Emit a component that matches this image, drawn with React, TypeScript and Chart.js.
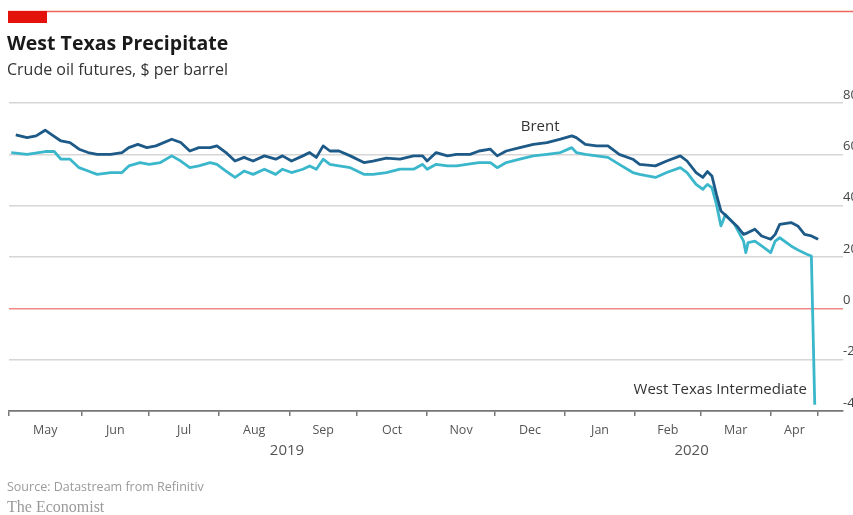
import React, { useEffect, useRef } from 'react';
import { Chart, registerables } from 'chart.js';

Chart.register(...registerables);

const TITLE = 'West Texas Precipitate';
const SUBTITLE = 'Crude oil futures, $ per barrel';
const SOURCE = 'Source: Datastream from Refinitiv';
const CREDIT = 'The Economist';

// x values are days since 1 May 2019
const brentDays = [2, 7, 11, 15, 18, 22, 26, 30, 34, 38, 44, 49, 52, 56, 60, 64, 71, 75, 79, 83, 88, 91, 95, 99, 103, 107, 112, 117, 120, 124, 129, 132, 135, 138, 141, 145, 150, 156, 160, 166, 172, 178, 182, 184, 188, 193, 197, 203, 207, 212, 215, 219, 225, 231, 237, 243, 248, 250, 254, 259, 264, 269, 275, 278, 285, 290, 296, 299, 303, 306, 308, 310, 312, 314, 317, 321, 324, 326, 329, 332, 336, 338, 340, 345, 348, 351, 354, 357];
const brentValues = [67.6, 66.5, 67.2, 69.4, 67.6, 65.2, 64.6, 62.0, 60.7, 60.0, 60.0, 60.7, 62.6, 63.9, 62.6, 63.3, 65.9, 64.6, 61.3, 62.6, 62.6, 63.3, 60.7, 57.4, 58.8, 57.4, 59.4, 58.1, 59.4, 57.4, 59.4, 60.7, 58.8, 63.3, 61.3, 61.3, 59.4, 56.8, 57.4, 58.5, 58.1, 59.4, 59.4, 57.4, 60.7, 59.4, 60.0, 60.0, 61.3, 62.0, 59.4, 61.3, 62.6, 63.9, 64.6, 65.9, 67.2, 66.5, 63.9, 63.3, 63.3, 60.0, 58.1, 56.1, 55.5, 57.4, 59.4, 57.4, 52.9, 51.0, 53.3, 51.6, 44.4, 37.9, 35.4, 32.1, 28.8, 29.5, 30.8, 28.2, 26.9, 28.8, 32.7, 33.4, 32.1, 28.8, 28.2, 26.9];

const wtiDays = [0, 7, 15, 19, 22, 26, 30, 34, 38, 44, 49, 52, 57, 61, 66, 71, 75, 79, 83, 88, 91, 95, 99, 103, 107, 112, 117, 120, 124, 129, 132, 135, 138, 141, 145, 150, 156, 160, 166, 172, 178, 182, 184, 188, 193, 197, 203, 207, 212, 215, 219, 225, 231, 237, 243, 248, 250, 254, 259, 264, 269, 275, 278, 285, 290, 296, 299, 303, 306, 308, 310, 312, 314, 316, 320, 324, 325, 326, 329, 332, 336, 338, 340, 345, 349, 352, 354, 355.5];
const wtiValues = [60.7, 60.0, 61.1, 61.1, 58.1, 58.1, 54.8, 53.5, 52.2, 52.9, 52.9, 55.5, 56.8, 56.1, 56.8, 59.4, 57.4, 54.8, 55.5, 56.8, 56.1, 53.5, 51.0, 53.5, 52.2, 54.2, 52.2, 54.2, 52.9, 54.2, 55.5, 54.2, 58.1, 56.1, 55.5, 54.8, 52.2, 52.2, 52.9, 54.2, 54.2, 56.1, 54.2, 56.1, 55.5, 55.5, 56.3, 56.8, 56.8, 54.8, 56.8, 58.1, 59.4, 60.0, 60.7, 62.6, 60.7, 60.0, 59.4, 58.8, 56.1, 52.9, 52.2, 51.0, 52.9, 54.8, 52.9, 48.3, 46.4, 48.3, 47.0, 40.5, 32.1, 36.6, 32.7, 26.2, 21.7, 25.6, 26.2, 24.3, 21.7, 26.2, 27.5, 24.3, 22.3, 21.1, 20.4, -37.6];

const monthTickDays = [-1, 31, 61, 92, 123, 153, 184, 214, 245, 276, 305, 336, 357];
const monthLabels = ['May', 'Jun', 'Jul', 'Aug', 'Sep', 'Oct', 'Nov', 'Dec', 'Jan', 'Feb', 'Mar', 'Apr'];
const yearLabels = ['2019', '2020'];
const yearSpanDays = [[-1, 245], [245, 357]];
const yTicks = [80, 60, 40, 20, 0, -20, -40];

const seriesNames = ['Brent', 'West Texas Intermediate'];
const brentLabelAt = { day: 234, value: 70.6 };
const wtiLabelAt = { day: 352, value: -31.6 };

const BRENT_COLOR = '#1d5a87';
const WTI_COLOR = '#3bb7cc';
const SANS = '"Open Sans", Lato, sans-serif';

const decorPlugin = {
  id: 'decor',
  afterDraw(chart: any) {
    const { ctx } = chart;
    const x = chart.scales.x;
    const y = chart.scales.y;
    ctx.save();
    // top rule and red block
    ctx.strokeStyle = 'rgba(227,18,11,0.65)';
    ctx.lineWidth = 1.5;
    ctx.beginPath();
    ctx.moveTo(8, 11.5);
    ctx.lineTo(853, 11.5);
    ctx.stroke();
    ctx.fillStyle = '#e3120b';
    ctx.fillRect(8, 11, 39, 12);

    ctx.textBaseline = 'middle';
    ctx.textAlign = 'left';
    ctx.fillStyle = '#1a1a1a';
    ctx.font = `bold 19.5px ${SANS}`;
    ctx.fillText(TITLE, 7, 44);
    ctx.fillStyle = '#333';
    ctx.font = `16px ${SANS}`;
    ctx.fillText(SUBTITLE, 7, 70);

    // month labels
    ctx.fillStyle = '#555';
    ctx.textAlign = 'center';
    ctx.font = `12.5px ${SANS}`;
    for (let i = 0; i < monthLabels.length; i++) {
      const c = x.getPixelForValue((monthTickDays[i] + monthTickDays[i + 1]) / 2);
      ctx.fillText(monthLabels[i], c, 430);
    }
    ctx.font = `15px ${SANS}`;
    for (let i = 0; i < yearLabels.length; i++) {
      const c = x.getPixelForValue((yearSpanDays[i][0] + yearSpanDays[i][1]) / 2);
      ctx.fillText(yearLabels[i], c, 451);
    }

    // series labels
    ctx.fillStyle = '#333';
    ctx.font = `15px ${SANS}`;
    ctx.textAlign = 'center';
    ctx.fillText(seriesNames[0], x.getPixelForValue(brentLabelAt.day), y.getPixelForValue(brentLabelAt.value));
    ctx.textAlign = 'right';
    ctx.fillText(seriesNames[1], x.getPixelForValue(wtiLabelAt.day), y.getPixelForValue(wtiLabelAt.value));

    // footer
    ctx.textAlign = 'left';
    ctx.fillStyle = '#9a9a9a';
    ctx.font = `12.5px ${SANS}`;
    ctx.fillText(SOURCE, 7, 487);
    ctx.font = '16px "Liberation Serif", serif';
    ctx.fillText(CREDIT, 7, 508);
    ctx.restore();
  },
};

export default function App() {
  const ref = useRef<HTMLCanvasElement>(null);
  useEffect(() => {
    if (!ref.current) return;
    const chart = new Chart(ref.current, {
      type: 'line',
      data: {
        datasets: [
          {
            label: seriesNames[0],
            data: brentDays.map((d, i) => ({ x: d, y: brentValues[i] })),
            borderColor: BRENT_COLOR,
            borderWidth: 2.8,
            pointRadius: 0,
            borderJoinStyle: 'round',
          },
          {
            label: seriesNames[1],
            data: wtiDays.map((d, i) => ({ x: d, y: wtiValues[i] })),
            borderColor: WTI_COLOR,
            borderWidth: 2.8,
            pointRadius: 0,
            borderJoinStyle: 'round',
          },
        ],
      },
      options: {
        animation: false,
        responsive: false,
        maintainAspectRatio: false,
        layout: { padding: { left: 9, top: 103, right: 0, bottom: 0 } },
        plugins: { legend: { display: false }, tooltip: { enabled: false }, title: { display: false } },
        scales: {
          x: {
            type: 'linear',
            min: -1,
            max: 368,
            afterBuildTicks: (scale: any) => {
              scale.ticks = monthTickDays.map((v) => ({ value: v }));
            },
            afterFit: (scale: any) => {
              scale.height = 104;
            },
            ticks: { callback: () => '', autoSkip: false },
            grid: { drawOnChartArea: false, drawTicks: true, tickLength: 5, color: '#777', lineWidth: 1.5 },
            border: { display: true, color: '#777', width: 1.5 },
          },
          y: {
            position: 'right',
            min: -40,
            max: 80,
            afterBuildTicks: (scale: any) => {
              scale.ticks = yTicks.map((v) => ({ value: v }));
            },
            afterFit: (scale: any) => {
              scale.width = 10;
            },
            ticks: {
              padding: 0,
              crossAlign: 'near',
              labelOffset: -8,
              color: '#444',
              font: { family: SANS, size: 13 },
              callback: (v: any) => String(v),
            },
            grid: {
              drawTicks: false,
              lineWidth: 1.5,
              color: (c: any) => (c.tick && c.tick.value === 0 ? 'rgba(227,18,11,0.5)' : c.tick && c.tick.value === -40 ? '#777' : '#d6d6d6'),
            },
            border: { display: false },
          },
        },
      },
      plugins: [decorPlugin],
    });
    return () => chart.destroy();
  }, []);
  return (
    <div style={{ position: 'fixed', left: 0, top: 0, width: 853, height: 515, background: '#fff' }}>
      <canvas ref={ref} width={853} height={515} style={{ width: 853, height: 515, display: 'block' }} />
    </div>
  );
}
